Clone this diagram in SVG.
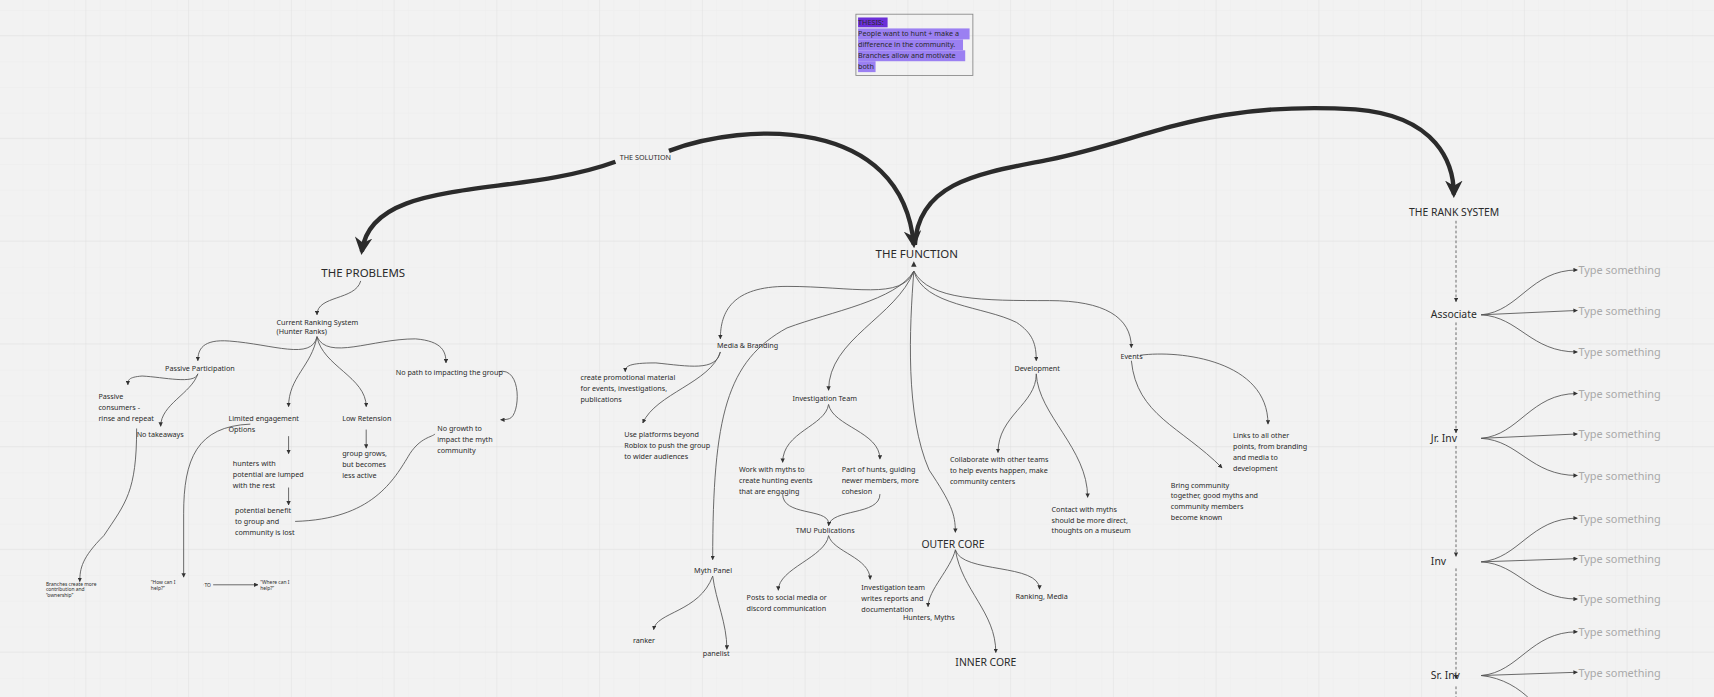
<svg xmlns="http://www.w3.org/2000/svg" width="1714" height="697" viewBox="0 0 1714 697">
<defs>
<pattern id="gmin" width="23.5" height="23.5" patternUnits="userSpaceOnUse" x="-2" y="10"><path d="M23.5 0V23.5M0 23.5H23.5" fill="none" stroke="#e9e9e9" stroke-width="0.6"/></pattern>
<pattern id="gmaj" width="94" height="94" patternUnits="userSpaceOnUse" x="-15" y="33"><path d="M94 0V94M0 94H94" fill="none" stroke="#dedede" stroke-width="0.9"/></pattern>
<marker id="a" viewBox="0 0 10 10" refX="9" refY="5" markerWidth="4" markerHeight="4" orient="auto-start-reverse" markerUnits="userSpaceOnUse"><path d="M0 0L10 5L0 10z" fill="#333"/></marker>
<marker id="big" viewBox="0 0 10 10" refX="8" refY="5" markerWidth="4" markerHeight="4" orient="auto"><path d="M0 0L10 5L0 10L3 5z" fill="#2b2b2b"/></marker>
<style>
text{font-family:"Noto Sans","Open Sans",sans-serif;fill:#2a2a2a;font-size:6.6px}
.h{font-size:10.5px}
.m{font-size:9.5px}
.s{font-size:4.5px}
.ts{fill:#a9a9a9;font-size:10px}
.c path,path.c{fill:none;stroke:#555;stroke-width:0.8}
.ar{marker-end:url(#a)}
.thick{fill:none;stroke:#2b2b2b;stroke-width:4;marker-end:url(#big)}
</style>
</defs>
<rect width="1714" height="697" fill="#f2f2f2"/>
<g transform="scale(1.0931)">
<rect width="1568" height="638" fill="url(#gmin)"/>
<rect width="1568" height="638" fill="url(#gmaj)"/>

<g id="connectors">
<path class="thick" d="M563,148 C470,182 340,160 331,230"/>
<path class="thick" d="M612,138 C680,112 825,105 836,224"/>
<path class="thick" d="M837,224 C840,165 900,158 960,146 C1050,128 1100,92 1240,100 C1315,106 1330,150 1330,178"/>
<path d="M833.5,244 L836,239 L838.5,244z" style="fill:#333;stroke:none"/>
<g class="c">
<path class="ar" d="M330,257 C325,275 290,270 290,288"/>
<path class="ar" d="M290,308 C285,330 250,315 210,312 C185,310 181,320 181,330"/>
<path class="ar" d="M290,308 C285,335 264,345 264,372"/>
<path class="ar" d="M290,308 C295,335 335,345 335,372"/>
<path class="ar" d="M290,308 C300,330 340,310 380,310 C405,312 408,322 408,332"/>
<path class="ar" d="M181,342 C178,352 150,345 130,344 C117,345 117,348 117,352"/>
<path class="ar" d="M181,342 C175,360 147,370 147,390"/>
<path class="ar" d="M264,399 V415"/>
<path class="ar" d="M264,446 V462"/>
<path class="ar" d="M335,393 V410"/>
<path class="ar" d="M456,340 C478,335 476,380 466,383 C463,384 460,384 458,384"/>
<path d="M270,477 C340,475 360,440 375,415 C385,400 395,400 398,397" stroke="#999"/>
<path class="ar" d="M125,392 C125,450 115,460 95,490 C75,510 73,520 73,532"/>
<path class="ar" d="M229,388 C180,390 168,420 168,470 V528"/>
<path class="ar" d="M186,535 H236"/>
</g>
<g class="c">
<path class="ar" d="M836,248 C825,275 780,262 720,262 C670,262 659,285 659,310"/>
<path class="ar" d="M836,248 C820,275 760,285 720,300 C665,330 652,380 652,512"/>
<path class="ar" d="M836,248 C820,290 758,310 758,357"/>
<path class="ar" d="M836,248 C832,300 828,380 850,430 C870,460 874,470 874,487"/>
<path class="ar" d="M836,248 C845,280 900,280 930,295 C945,305 948,315 948,330"/>
<path class="ar" d="M836,248 C850,275 900,275 960,275 C1010,275 1035,290 1035,318"/>
<path class="ar" d="M659,322 C655,340 630,335 600,332 C575,332 572,335 572,340"/>
<path class="ar" d="M659,322 C650,350 600,360 588,387"/>
<path class="ar" d="M758,370 C755,390 716,395 716,423"/>
<path class="ar" d="M758,370 C762,390 805,395 805,420"/>
<path d="M716,452 C716,472 756,465 758,478"/>
<path class="ar" d="M805,452 C805,472 760,465 758,481"/>
<path class="ar" d="M758,490 C755,510 712,520 712,540"/>
<path class="ar" d="M758,490 C762,505 796,510 796,530"/>
<path class="ar" d="M652,527 C640,560 600,560 598,576"/>
<path class="ar" d="M652,527 C655,550 665,570 665,594"/>
<path class="ar" d="M874,503 C870,520 849,540 849,555"/>
<path class="ar" d="M874,503 C880,540 911,560 911,597"/>
<path class="ar" d="M874,503 C880,525 951,515 951,539"/>
<path class="ar" d="M948,342 C948,370 913,380 913,414"/>
<path class="ar" d="M948,342 C950,380 995,410 995,455"/>
<path class="ar" d="M1043,325 C1080,320 1160,330 1160,388"/>
<path class="ar" d="M1035,330 C1040,380 1080,390 1118,428"/>
</g>
<g class="c">
<path d="M1332,202 V276" stroke-dasharray="2.5,2" class="ar"/>
<path d="M1332,295 V396" stroke-dasharray="2.5,2" class="ar"/>
<path d="M1332,408 V509" stroke-dasharray="2.5,2" class="ar"/>
<path d="M1332,520 V621" stroke-dasharray="2.5,2" class="ar"/>
<path d="M1332,628 V640" stroke-dasharray="2.5,2"/>
<path class="ar" d="M1355,288 C1390,285 1400,247 1443,247"/><path class="ar" d="M1355,288 L1443,284"/><path class="ar" d="M1355,288 C1390,290 1400,322 1443,322"/>
<path class="ar" d="M1355,401 C1390,398 1400,360 1443,360"/><path class="ar" d="M1355,401 L1443,397"/><path class="ar" d="M1355,401 C1390,403 1400,435 1443,435"/>
<path class="ar" d="M1355,514 C1390,511 1400,474 1443,474"/><path class="ar" d="M1355,514 L1443,511"/><path class="ar" d="M1355,514 C1390,516 1400,548 1443,548"/>
<path class="ar" d="M1355,618 C1390,615 1400,578 1443,578"/><path class="ar" d="M1355,618 L1443,615"/><path d="M1355,618 C1375,620 1390,630 1400,640"/>
</g>
</g>

<g id="thesis">
<rect x="783" y="13" width="107" height="56" fill="none" stroke="#888" stroke-width="0.8"/>
<rect x="785" y="16" width="27" height="9" fill="#6b2fd8"/>
<rect x="785" y="26" width="102" height="10" fill="#9b80f2"/>
<rect x="785" y="36" width="96" height="10" fill="#9b80f2"/>
<rect x="785" y="46" width="98" height="10" fill="#9b80f2"/>
<rect x="785" y="56" width="16" height="10" fill="#9b80f2"/>
<text x="785" y="23">THESIS:</text>
<text x="785" y="33">People want to hunt + make a</text>
<text x="785" y="43">difference in the community.</text>
<text x="785" y="53">Branches allow and motivate</text>
<text x="785" y="63">both</text>
</g>
<g id="solution"><text x="567" y="146" font-size="7.5">THE SOLUTION</text></g>
<g id="problems"><text class="h" x="294" y="253">THE PROBLEMS</text></g>
<g id="function"><text class="h" x="801" y="236">THE FUNCTION</text></g>
<g id="ranksystem"><text class="m" x="1289" y="198">THE RANK SYSTEM</text></g>

<g id="current"><text x="253" y="297">Current Ranking System</text><text x="253" y="306">(Hunter Ranks)</text></g>
<g id="passive"><text x="151" y="339">Passive Participation</text></g>
<g id="consumers"><text x="90" y="365">Passive</text><text x="90" y="375">consumers -</text><text x="90" y="385">rinse and repeat</text></g>
<g id="notake"><text x="125" y="400">No takeaways</text></g>
<g id="limited"><text x="209" y="385">Limited engagement</text><text x="209" y="395">Options</text></g>
<g id="hunters"><text x="213" y="426">hunters with</text><text x="213" y="436">potential are lumped</text><text x="213" y="446">with the rest</text></g>
<g id="benefit"><text x="215" y="469">potential benefit</text><text x="215" y="479">to group and</text><text x="215" y="489">community is lost</text></g>
<g id="lowret"><text x="313" y="385">Low Retension</text></g>
<g id="grows"><text x="313" y="417">group grows,</text><text x="313" y="427">but becomes</text><text x="313" y="437">less active</text></g>
<g id="nopath"><text x="362" y="343">No path to impacting the group</text></g>
<g id="nogrowth"><text x="400" y="394">No growth to</text><text x="400" y="404">impact the myth</text><text x="400" y="414">community</text></g>
<g id="branches"><text class="s" x="42" y="536">Branches create more</text><text class="s" x="42" y="541">contribution and</text><text class="s" x="42" y="546">“ownership”</text></g>
<g id="how"><text class="s" x="138" y="534">“How can I</text><text class="s" x="138" y="540">help?”</text></g>
<g id="to"><rect x="186" y="532" width="9" height="6" fill="#f2f2f2"/><text class="s" x="187" y="537">TO</text></g>
<g id="where"><text class="s" x="238" y="534">“Where can I</text><text class="s" x="238" y="540">help?”</text></g>

<g id="media"><text x="656" y="318">Media &amp; Branding</text></g>
<g id="promo"><text x="531" y="348">create promotional material</text><text x="531" y="358">for events, investigations,</text><text x="531" y="368">publications</text></g>
<g id="platforms"><text x="571" y="400">Use platforms beyond</text><text x="571" y="410">Roblox to push the group</text><text x="571" y="420">to wider audiences</text></g>
<g id="invteam"><text x="725" y="367">Investigation Team</text></g>
<g id="workmyths"><text x="676" y="432">Work with myths to</text><text x="676" y="442">create hunting events</text><text x="676" y="452">that are engaging</text></g>
<g id="parthunts"><text x="770" y="432">Part of hunts, guiding</text><text x="770" y="442">newer members, more</text><text x="770" y="452">cohesion</text></g>
<g id="tmu"><text x="728" y="488">TMU Publications</text></g>
<g id="posts"><text x="683" y="549">Posts to social media or</text><text x="683" y="559">discord communication</text></g>
<g id="writes"><text x="788" y="540">Investigation team</text><text x="788" y="550">writes reports and</text><text x="788" y="560">documentation</text></g>
<g id="mythpanel"><text x="635" y="524">Myth Panel</text></g>
<g id="ranker"><text x="579" y="588">ranker</text></g>
<g id="panelist"><text x="643" y="600">panelist</text></g>
<g id="outer"><text class="m" x="843" y="501">OUTER CORE</text></g>
<g id="huntersmyths"><text x="826" y="567">Hunters, Myths</text></g>
<g id="inner"><text class="m" x="874" y="609">INNER CORE</text></g>
<g id="rankmedia"><text x="929" y="548">Ranking, Media</text></g>
<g id="dev"><text x="928" y="339">Development</text></g>
<g id="collab"><text x="869" y="423">Collaborate with other teams</text><text x="869" y="433">to help events happen, make</text><text x="869" y="443">community centers</text></g>
<g id="contact"><text x="962" y="468">Contact with myths</text><text x="962" y="478">should be more direct,</text><text x="962" y="488">thoughts on a museum</text></g>
<g id="events"><text x="1025" y="328">Events</text></g>
<g id="links"><text x="1128" y="401">Links to all other</text><text x="1128" y="411">points, from branding</text><text x="1128" y="421">and media to</text><text x="1128" y="431">development</text></g>
<g id="bring"><text x="1071" y="446">Bring community</text><text x="1071" y="456">together, good myths and</text><text x="1071" y="466">community members</text><text x="1071" y="476">become known</text></g>

<g id="associate"><text class="m" x="1309" y="291">Associate</text></g>
<g id="jrinv"><text class="m" x="1309" y="404">Jr. Inv</text></g>
<g id="inv"><text class="m" x="1309" y="517">Inv</text></g>
<g id="srinv"><text class="m" x="1309" y="621">Sr. Inv</text></g>
<g id="types">
<text class="ts" x="1444" y="251">Type something</text><text class="ts" x="1444" y="288">Type something</text><text class="ts" x="1444" y="326">Type something</text>
<text class="ts" x="1444" y="364">Type something</text><text class="ts" x="1444" y="401">Type something</text><text class="ts" x="1444" y="439">Type something</text>
<text class="ts" x="1444" y="478">Type something</text><text class="ts" x="1444" y="515">Type something</text><text class="ts" x="1444" y="552">Type something</text>
<text class="ts" x="1444" y="582">Type something</text><text class="ts" x="1444" y="619">Type something</text>
</g>
</g>
</svg>
